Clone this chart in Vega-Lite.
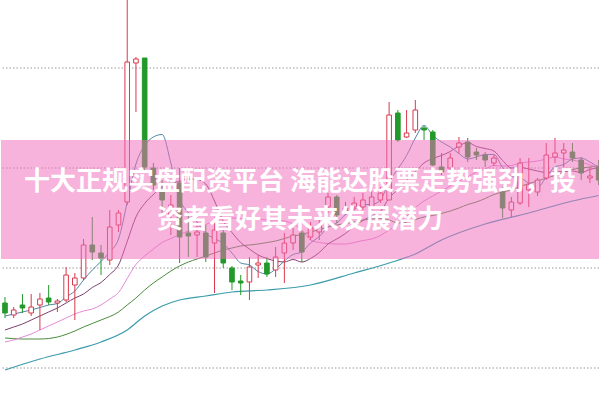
{
"$schema": "https://vega.github.io/schema/vega-lite/v6.json",
"width": 600, "height": 401,
"autosize": {"type": "fit", "contains": "padding"},
"padding": 0,
"background": "#ffffff",
"config": {"view": {"stroke": null}, "scale": {"continuousPadding": 0}},
"datasets": {
"grid": [{"g": 2}, {"g": 4}, {"g": 6}, {"g": 8}],
"candles": [
{"i":0,"o":3.30,"h":3.42,"l":3.00,"c":3.10,"d":"down"},
{"i":1,"o":3.06,"h":3.22,"l":3.00,"c":3.16,"d":"up"},
{"i":2,"o":3.26,"h":3.48,"l":3.10,"c":3.20,"d":"down"},
{"i":3,"o":3.10,"h":3.48,"l":3.04,"c":3.22,"d":"up"},
{"i":4,"o":3.26,"h":3.50,"l":2.76,"c":3.38,"d":"up"},
{"i":5,"o":3.40,"h":3.66,"l":3.26,"c":3.32,"d":"down"},
{"i":6,"o":3.30,"h":3.38,"l":3.12,"c":3.34,"d":"up"},
{"i":7,"o":3.36,"h":4.02,"l":3.32,"c":3.86,"d":"up"},
{"i":8,"o":3.66,"h":3.90,"l":2.96,"c":3.80,"d":"up"},
{"i":9,"o":3.80,"h":4.58,"l":3.76,"c":4.46,"d":"up"},
{"i":10,"o":4.46,"h":5.02,"l":4.16,"c":4.32,"d":"down"},
{"i":11,"o":4.30,"h":4.46,"l":3.86,"c":4.20,"d":"down"},
{"i":12,"o":4.16,"h":5.16,"l":4.06,"c":4.82,"d":"up"},
{"i":13,"o":4.86,"h":5.16,"l":4.72,"c":5.10,"d":"up"},
{"i":14,"o":5.32,"h":9.50,"l":5.26,"c":8.12,"d":"up"},
{"i":15,"o":8.10,"h":8.22,"l":7.12,"c":8.18,"d":"up"},
{"i":16,"o":8.20,"h":8.20,"l":5.96,"c":6.02,"d":"down"},
{"i":17,"o":6.00,"h":6.10,"l":5.56,"c":5.66,"d":"down"},
{"i":18,"o":5.56,"h":5.76,"l":5.06,"c":5.36,"d":"down"},
{"i":19,"o":5.06,"h":5.46,"l":4.66,"c":5.26,"d":"up"},
{"i":20,"o":5.70,"h":6.00,"l":4.10,"c":4.62,"d":"down"},
{"i":21,"o":4.70,"h":5.10,"l":4.22,"c":4.64,"d":"down"},
{"i":22,"o":4.66,"h":4.90,"l":4.22,"c":4.72,"d":"up"},
{"i":23,"o":4.70,"h":4.86,"l":4.12,"c":4.22,"d":"down"},
{"i":24,"o":4.50,"h":5.02,"l":3.50,"c":4.76,"d":"up"},
{"i":25,"o":4.70,"h":4.80,"l":4.00,"c":4.10,"d":"down"},
{"i":26,"o":4.00,"h":4.04,"l":3.56,"c":3.72,"d":"down"},
{"i":27,"o":3.74,"h":3.86,"l":3.46,"c":3.70,"d":"down"},
{"i":28,"o":3.72,"h":4.22,"l":3.36,"c":4.02,"d":"up"},
{"i":29,"o":4.06,"h":4.26,"l":3.80,"c":4.10,"d":"up"},
{"i":30,"o":4.10,"h":4.22,"l":3.82,"c":3.88,"d":"down"},
{"i":31,"o":3.96,"h":4.42,"l":3.82,"c":4.22,"d":"up"},
{"i":32,"o":4.30,"h":4.70,"l":3.70,"c":4.50,"d":"up"},
{"i":33,"o":4.50,"h":4.80,"l":4.36,"c":4.66,"d":"up"},
{"i":34,"o":4.70,"h":4.76,"l":4.12,"c":4.32,"d":"down"},
{"i":35,"o":4.62,"h":4.92,"l":4.56,"c":4.82,"d":"up"},
{"i":36,"o":4.72,"h":5.02,"l":4.56,"c":4.86,"d":"up"},
{"i":37,"o":5.22,"h":5.50,"l":5.10,"c":5.42,"d":"up"},
{"i":38,"o":5.42,"h":5.46,"l":4.90,"c":5.06,"d":"down"},
{"i":39,"o":5.12,"h":5.32,"l":5.06,"c":5.20,"d":"up"},
{"i":40,"o":5.22,"h":5.42,"l":5.16,"c":5.30,"d":"up"},
{"i":41,"o":5.22,"h":5.50,"l":5.16,"c":5.36,"d":"up"},
{"i":42,"o":5.20,"h":5.56,"l":5.16,"c":5.42,"d":"up"},
{"i":43,"o":5.36,"h":5.62,"l":5.30,"c":5.50,"d":"up"},
{"i":44,"o":5.36,"h":7.32,"l":5.36,"c":7.06,"d":"up"},
{"i":45,"o":7.10,"h":7.16,"l":6.52,"c":6.56,"d":"down"},
{"i":46,"o":6.62,"h":7.16,"l":6.60,"c":6.70,"d":"up"},
{"i":47,"o":6.76,"h":7.36,"l":6.70,"c":7.16,"d":"up"},
{"i":48,"o":6.80,"h":6.84,"l":6.56,"c":6.76,"d":"down"},
{"i":49,"o":6.72,"h":6.76,"l":6.04,"c":6.06,"d":"down"},
{"i":50,"o":6.02,"h":6.30,"l":5.86,"c":5.92,"d":"down"},
{"i":51,"o":6.00,"h":6.30,"l":5.92,"c":6.20,"d":"up"},
{"i":52,"o":6.42,"h":6.62,"l":6.30,"c":6.50,"d":"up"},
{"i":53,"o":6.52,"h":6.60,"l":6.12,"c":6.22,"d":"down"},
{"i":54,"o":6.32,"h":6.40,"l":6.16,"c":6.26,"d":"down"},
{"i":55,"o":6.26,"h":6.32,"l":6.02,"c":6.16,"d":"down"},
{"i":56,"o":6.10,"h":6.26,"l":6.04,"c":6.20,"d":"up"},
{"i":57,"o":5.52,"h":5.62,"l":5.00,"c":5.20,"d":"down"},
{"i":58,"o":5.16,"h":5.42,"l":5.02,"c":5.32,"d":"up"},
{"i":59,"o":5.30,"h":6.20,"l":5.26,"c":6.10,"d":"up"},
{"i":60,"o":5.56,"h":6.20,"l":5.22,"c":5.66,"d":"up"},
{"i":61,"o":5.52,"h":5.80,"l":5.44,"c":5.76,"d":"up"},
{"i":62,"o":5.80,"h":6.50,"l":5.76,"c":6.26,"d":"up"},
{"i":63,"o":6.22,"h":6.60,"l":6.10,"c":6.30,"d":"up"},
{"i":64,"o":6.30,"h":6.50,"l":6.02,"c":6.36,"d":"up"},
{"i":65,"o":6.32,"h":6.50,"l":6.12,"c":6.20,"d":"down"},
{"i":66,"o":6.16,"h":6.22,"l":5.76,"c":5.90,"d":"down"},
{"i":67,"o":5.80,"h":6.02,"l":5.70,"c":5.84,"d":"up"},
{"i":68,"o":6.02,"h":6.16,"l":5.66,"c":5.76,"d":"down"}
],
"ma": [
{"i":0,"m5":3.04,"m10":2.76,"m20":2.52},
{"i":1,"m5":3.08,"m10":2.82,"m20":2.56},
{"i":2,"m5":3.12,"m10":2.88,"m20":2.62},
{"i":3,"m5":3.16,"m10":2.96,"m20":2.68},
{"i":4,"m5":3.21,"m10":3.04,"m20":2.76},
{"i":5,"m5":3.26,"m10":3.12,"m20":2.84},
{"i":6,"m5":3.29,"m10":3.20,"m20":2.92},
{"i":7,"m5":3.42,"m10":3.30,"m20":3.00},
{"i":8,"m5":3.54,"m10":3.40,"m20":3.08},
{"i":9,"m5":3.76,"m10":3.48,"m20":3.14},
{"i":10,"m5":3.96,"m10":3.61,"m20":3.18},
{"i":11,"m5":4.13,"m10":3.71,"m20":3.26},
{"i":12,"m5":4.32,"m10":3.87,"m20":3.38},
{"i":13,"m5":4.58,"m10":4.06,"m20":3.51},
{"i":14,"m5":5.31,"m10":4.53,"m20":3.79},
{"i":15,"m5":6.08,"m10":5.02,"m20":4.07},
{"i":16,"m5":6.45,"m10":5.29,"m20":4.24},
{"i":17,"m5":6.62,"m10":5.47,"m20":4.38},
{"i":18,"m5":6.67,"m10":5.62,"m20":4.51},
{"i":19,"m5":6.10,"m10":5.70,"m20":4.59},
{"i":20,"m5":5.38,"m10":5.73,"m20":4.67},
{"i":21,"m5":5.11,"m10":5.78,"m20":4.74},
{"i":22,"m5":4.92,"m10":5.77,"m20":4.82},
{"i":23,"m5":4.69,"m10":5.68,"m20":4.87},
{"i":24,"m5":4.59,"m10":5.34,"m20":4.94},
{"i":25,"m5":4.49,"m10":4.94,"m20":4.98},
{"i":26,"m5":4.30,"m10":4.71,"m20":5.00},
{"i":27,"m5":4.10,"m10":4.51,"m20":4.99},
{"i":28,"m5":4.06,"m10":4.38,"m20":5.00},
{"i":29,"m5":3.93,"m10":4.26,"m20":4.98},
{"i":30,"m5":3.88,"m10":4.19,"m20":4.96},
{"i":31,"m5":3.98,"m10":4.14,"m20":4.96},
{"i":32,"m5":4.14,"m10":4.12,"m20":4.94},
{"i":33,"m5":4.27,"m10":4.17,"m20":4.88},
{"i":34,"m5":4.32,"m10":4.12,"m20":4.76},
{"i":35,"m5":4.50,"m10":4.19,"m20":4.56},
{"i":36,"m5":4.63,"m10":4.31,"m20":4.51},
{"i":37,"m5":4.82,"m10":4.48,"m20":4.49},
{"i":38,"m5":4.90,"m10":4.58,"m20":4.48},
{"i":39,"m5":5.07,"m10":4.69,"m20":4.48},
{"i":40,"m5":5.17,"m10":4.84,"m20":4.51},
{"i":41,"m5":5.27,"m10":4.95,"m20":4.55},
{"i":42,"m5":5.27,"m10":5.04,"m20":4.58},
{"i":43,"m5":5.36,"m10":5.13,"m20":4.65},
{"i":44,"m5":5.73,"m10":5.40,"m20":4.76},
{"i":45,"m5":5.98,"m10":5.57,"m20":4.88},
{"i":46,"m5":6.25,"m10":5.76,"m20":5.03},
{"i":47,"m5":6.60,"m10":5.93,"m20":5.21},
{"i":48,"m5":6.85,"m10":6.10,"m20":5.34},
{"i":49,"m5":6.65,"m10":6.19,"m20":5.44},
{"i":50,"m5":6.52,"m10":6.25,"m20":5.54},
{"i":51,"m5":6.42,"m10":6.33,"m20":5.64},
{"i":52,"m5":6.29,"m10":6.44,"m20":5.74},
{"i":53,"m5":6.18,"m10":6.51,"m20":5.82},
{"i":54,"m5":6.22,"m10":6.43,"m20":5.92},
{"i":55,"m5":6.27,"m10":6.39,"m20":5.98},
{"i":56,"m5":6.27,"m10":6.34,"m20":6.05},
{"i":57,"m5":6.01,"m10":6.15,"m20":6.04},
{"i":58,"m5":5.83,"m10":6.00,"m20":6.05},
{"i":59,"m5":5.80,"m10":6.01,"m20":6.10},
{"i":60,"m5":5.70,"m10":5.98,"m20":6.12},
{"i":61,"m5":5.61,"m10":5.94,"m20":6.14},
{"i":62,"m5":5.82,"m10":5.91,"m20":6.18},
{"i":63,"m5":6.02,"m10":5.92,"m20":6.22},
{"i":64,"m5":6.07,"m10":5.93,"m20":6.18},
{"i":65,"m5":6.18,"m10":5.94,"m20":6.16},
{"i":66,"m5":6.20,"m10":5.91,"m20":6.12},
{"i":67,"m5":6.12,"m10":5.97,"m20":6.06},
{"i":68,"m5":6.01,"m10":6.01,"m20":6.01}
],
"ma30": [
{"i":0,"v":2.60},{"i":2,"v":2.58},{"i":4,"v":2.58},{"i":6,"v":2.62},{"i":8,"v":2.74},{"i":9,"v":2.82},
{"i":11,"v":2.96},{"i":13,"v":3.12},{"i":14,"v":3.26},{"i":15,"v":3.40},{"i":16,"v":3.56},{"i":17,"v":3.70},
{"i":18,"v":3.82},{"i":19,"v":3.94},{"i":20,"v":4.04},{"i":21,"v":4.12},{"i":22,"v":4.18},{"i":23,"v":4.24},
{"i":24,"v":4.30},{"i":25,"v":4.36},{"i":26,"v":4.40},{"i":27,"v":4.44},{"i":28,"v":4.46},{"i":29,"v":4.48},
{"i":30,"v":4.51},{"i":31,"v":4.54},{"i":32,"v":4.59},{"i":33,"v":4.64},{"i":34,"v":4.67},{"i":35,"v":4.72},
{"i":36,"v":4.77},{"i":37,"v":4.82},{"i":38,"v":4.86},{"i":39,"v":4.89},{"i":40,"v":4.92},{"i":41,"v":4.96},
{"i":42,"v":4.98},{"i":43,"v":4.99},{"i":44,"v":4.96},{"i":45,"v":4.90},{"i":46,"v":4.92},{"i":47,"v":4.97},
{"i":48,"v":5.02},{"i":49,"v":5.05},{"i":50,"v":5.09},{"i":51,"v":5.14},{"i":52,"v":5.20},{"i":53,"v":5.27},
{"i":54,"v":5.32},{"i":55,"v":5.39},{"i":56,"v":5.47},{"i":57,"v":5.52},{"i":58,"v":5.56},{"i":59,"v":5.63},
{"i":60,"v":5.69},{"i":61,"v":5.74},{"i":62,"v":5.80},{"i":63,"v":5.85},{"i":64,"v":5.92},{"i":65,"v":5.97},
{"i":66,"v":6.00},{"i":67,"v":6.02},{"i":68,"v":6.04}
],
"ma60": [
{"i":0,"v":1.96},{"i":4,"v":2.18},{"i":8,"v":2.36},{"i":11,"v":2.52},{"i":14,"v":2.76},{"i":16,"v":3.04},
{"i":18,"v":3.24},{"i":20,"v":3.36},{"i":23,"v":3.44},{"i":26,"v":3.52},{"i":30,"v":3.56},{"i":35,"v":3.66},
{"i":40,"v":3.90},{"i":44,"v":4.10},{"i":47,"v":4.28},{"i":50,"v":4.56},{"i":55,"v":4.88},{"i":60,"v":5.10},
{"i":65,"v":5.34},{"i":68,"v":5.45}
],
"banner": [{"x0": -0.457, "x1": 68.04, "top": 6.56, "bot": 4.18}],
"titles": [
{"t": "十大正规实盘配资平台 海能达股票走势强劲，投", "tx": 33.79, "ty": 5.72},
{"t": "资者看好其未来发展潜力", "tx": 33.79, "ty": 4.96}
]
},
"layer": [
{"data": {"name": "grid"},
 "mark": {"type": "rule", "color": "#9a9a9a", "strokeDash": [1.5, 2], "strokeWidth": 1},
 "encoding": {"y": {"field": "g", "type": "quantitative", "scale": {"domain": [1.34, 9.36], "nice": false, "zero": false}, "axis": null}}},
{"data": {"name": "ma60"},
 "mark": {"type": "line", "color": "#3b9cab", "strokeWidth": 1.2, "interpolate": "monotone", "clip": true},
 "encoding": {"x": {"field": "i", "type": "quantitative", "scale": {"domain": [-0.457, 68.04], "nice": false, "zero": false, "padding": 0}, "axis": null},
  "y": {"field": "v", "type": "quantitative", "axis": null}}},
{"data": {"name": "ma30"},
 "mark": {"type": "line", "color": "#4a8c3c", "strokeWidth": 1, "interpolate": "monotone", "clip": true},
 "encoding": {"x": {"field": "i", "type": "quantitative", "axis": null},
  "y": {"field": "v", "type": "quantitative", "axis": null}}},
{"data": {"name": "ma"},
 "mark": {"type": "line", "color": "#e48ad6", "strokeWidth": 1, "interpolate": "monotone", "clip": true},
 "encoding": {"x": {"field": "i", "type": "quantitative", "axis": null},
  "y": {"field": "m20", "type": "quantitative", "axis": null}}},
{"data": {"name": "ma"},
 "mark": {"type": "line", "color": "#7c3f6c", "strokeWidth": 1, "interpolate": "monotone", "clip": true},
 "encoding": {"x": {"field": "i", "type": "quantitative", "axis": null},
  "y": {"field": "m10", "type": "quantitative", "axis": null}}},
{"data": {"name": "ma"},
 "mark": {"type": "line", "color": "#4f86a6", "strokeWidth": 1, "interpolate": "monotone", "clip": true},
 "encoding": {"x": {"field": "i", "type": "quantitative", "axis": null},
  "y": {"field": "m5", "type": "quantitative", "axis": null}}},
{"data": {"name": "candles"},
 "mark": {"type": "rule", "strokeWidth": 1, "clip": true},
 "encoding": {"x": {"field": "i", "type": "quantitative", "axis": null},
  "y": {"field": "l", "type": "quantitative", "axis": null},
  "y2": {"field": "h"},
  "stroke": {"field": "d", "type": "nominal", "scale": {"domain": ["up", "down"], "range": ["#d8394c", "#23992b"]}, "legend": null}}},
{"data": {"name": "candles"},
 "mark": {"type": "bar", "size": 4.6, "strokeWidth": 1, "clip": true},
 "encoding": {"x": {"field": "i", "type": "quantitative", "axis": null},
  "y": {"field": "o", "type": "quantitative", "axis": null},
  "y2": {"field": "c"},
  "fill": {"field": "d", "type": "nominal", "scale": {"domain": ["up", "down"], "range": ["#ffffff", "#23992b"]}, "legend": null},
  "stroke": {"field": "d", "type": "nominal", "legend": null}}},
{"data": {"name": "banner"},
 "mark": {"type": "rect", "color": "rgba(240,110,188,0.52)", "clip": true},
 "encoding": {"x": {"field": "x0", "type": "quantitative", "axis": null},
  "x2": {"field": "x1"},
  "y": {"field": "top", "type": "quantitative", "axis": null},
  "y2": {"field": "bot"}}},
{"data": {"name": "titles"},
 "mark": {"type": "text", "align": "center", "baseline": "middle", "font": "Noto Sans CJK SC", "fontSize": 26, "fontWeight": "bold", "color": "#ffffff"},
 "encoding": {"x": {"field": "tx", "type": "quantitative", "axis": null},
  "y": {"field": "ty", "type": "quantitative", "axis": null},
  "text": {"field": "t"}}}
]
}
